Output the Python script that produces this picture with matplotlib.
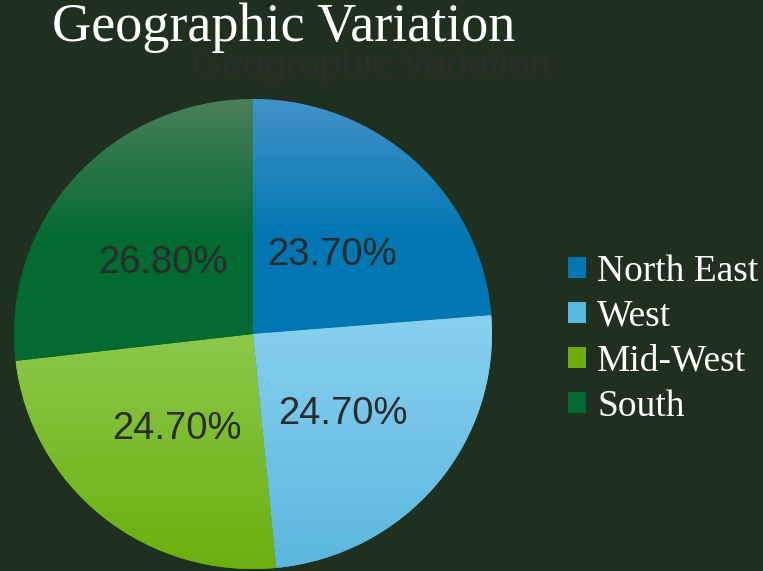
import matplotlib
matplotlib.use("Agg")
import matplotlib.pyplot as plt
import numpy as np
from matplotlib.colors import LinearSegmentedColormap
from matplotlib.patches import Rectangle

categories = ["North East", "West", "Mid-West", "South"]
values = [23.7, 24.7, 24.7, 26.8]
pct_labels = ["23.70%", "24.70%", "24.70%", "26.80%"]
top_colors = ["#4193c8", "#88d0f0", "#8cc84a", "#4a7f5a"]
bottom_colors = ["#0076b2", "#5ab7de", "#6aaf0c", "#006a30"]
flat_frac = [0.4, 0.0, 0.0, 0.45]
title = "Geographic Variation"

BG = "#20301f"
W, H = 763, 571
fig = plt.figure(figsize=(W / 100, H / 100), dpi=100, facecolor=BG)

cx, cy, rx, ry = 253, 334, 239, 235
ax = fig.add_axes([(cx - rx) / W, (H - cy - ry) / H, 2 * rx / W, 2 * ry / H])
ax.set_facecolor(BG)
ax.axis("off")

wedges, _ = ax.pie(values, startangle=90, counterclock=False, radius=1,
                   colors=bottom_colors, wedgeprops=dict(linewidth=0))
ax.set_xlim(-1, 1)
ax.set_ylim(-1, 1)
ax.set_aspect("auto")

for w, ct, cb, ff, lab in zip(wedges, top_colors, bottom_colors, flat_frac, pct_labels):
    verts = w.get_path().vertices
    x0, y0 = verts.min(axis=0)
    x1, y1 = verts.max(axis=0)
    cmap = LinearSegmentedColormap.from_list("g", [(0, cb), (ff, cb), (1, ct)])
    grad = np.linspace(0, 1, 256).reshape(-1, 1)
    im = ax.imshow(grad, cmap=cmap, extent=[x0, x1, y0, y1], origin="lower",
                   aspect="auto", zorder=2, interpolation="bilinear")
    im.set_clip_path(w)
    ang = np.deg2rad((w.theta1 + w.theta2) / 2)
    ax.text(0.49 * np.cos(ang) - (0.012 if np.cos(ang) < 0 else 0),
            0.49 * np.sin(ang) - 0.025, lab, ha="center", va="center",
            fontsize=27.5, color="#2b2b2b", family="Liberation Sans", zorder=3)

# ghost title
fig.text(371 / W, 1 - 66 / H, title, ha="center", va="center", fontsize=27.7,
         color="#2a2e2a", family="Liberation Sans")
# main title
fig.text(283.5 / W, 1 - 28 / H, title, ha="center", va="center", fontsize=39,
         color="white", family="Liberation Serif")

handles = [Rectangle((0, 0), 1, 1, facecolor=c, edgecolor="none") for c in bottom_colors]
leg = fig.legend(handles, categories, loc="center left",
                 bbox_to_anchor=(568 / W, 1 - 339 / H), frameon=False,
                 prop=dict(family="Liberation Serif", size=27),
                 labelcolor="white", handlelength=0.48, handleheight=0.48,
                 handletextpad=0.3, labelspacing=0.28, borderpad=0, borderaxespad=0)

fig.savefig("out.png", dpi=100, facecolor=BG)
